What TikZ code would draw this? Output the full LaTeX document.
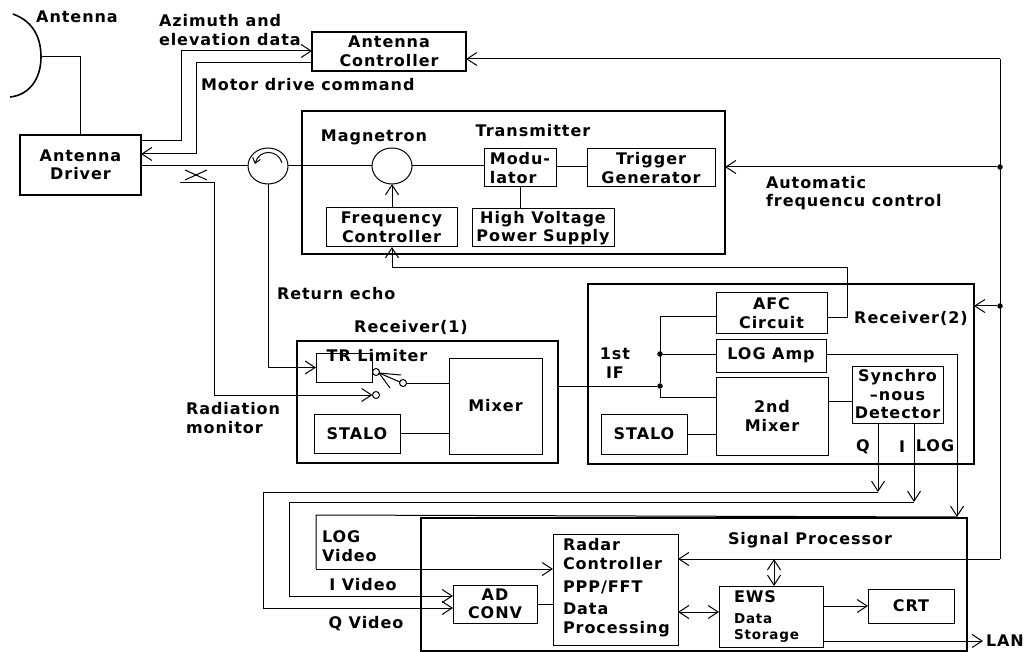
\documentclass[tikz,border=0pt]{standalone}
\usepackage{fontspec}
\setmainfont{DejaVu Sans}[LetterSpace=6]
\usetikzlibrary{arrows.meta, shapes.geometric}
\begin{document}
\begin{tikzpicture}[x=1pt, y=-1pt,
    wire/.style={line width=1pt, black},
    sig/.style={wire, -{Straight Barb[length=10pt,width=13pt]}},
    bothsig/.style={wire, {Straight Barb[length=10pt,width=13pt]}-{Straight Barb[length=10pt,width=13pt]}},
    unit/.style={draw, line width=2.2pt, inner sep=0pt, outer sep=0pt, align=center, font=\fontsize{16}{18.5}\selectfont\bfseries},
    block/.style={draw, line width=1pt, inner sep=0pt, outer sep=0pt, align=center, font=\fontsize{16}{18.5}\selectfont\bfseries},
    txt/.style={inner sep=0pt, outer sep=0pt, align=left, font=\fontsize{16}{18.5}\selectfont\bfseries},
    round/.style={draw, shape=ellipse, line width=1pt, inner sep=0pt, outer sep=0pt, minimum width=40pt, minimum height=36pt},
    contact/.style={draw, shape=circle, line width=1pt, inner sep=0pt, outer sep=0pt, minimum size=7pt},
    joint/.style={fill, shape=circle, inner sep=0pt, outer sep=0pt, minimum size=5.5pt}
]
    \useasboundingbox (0,0) rectangle (1028,652);

    \node[unit, minimum width=121pt, minimum height=60pt, name=driver] at(80.5,165) {Antenna\\Driver};
    \node[unit, minimum width=154pt, minimum height=39pt, name=ctrl] at(389,51.5) {Antenna\\Controller};

    \node[unit, minimum width=423pt, minimum height=143pt, name=transmitter] at(513.5,182.5) {};
    \node[block, minimum width=72pt, minimum height=38pt, name=mod, align=left] at(520,168) {Modu-\\lator};
    \node[block, minimum width=128pt, minimum height=38pt, name=trig] at(651,168) {Trigger\\Generator};
    \node[block, minimum width=131pt, minimum height=39pt, name=freq] at(391.5,227.5) {Frequency\\Controller};
    \node[block, minimum width=142pt, minimum height=38pt, name=hv] at(543,228) {High Voltage\\Power Supply};
    \node[round, name=circ] at(268,166) {};
    \node[round, name=magn] at(392,166) {};

    \node[unit, minimum width=261pt, minimum height=122pt, name=rxone] at(427.5,402) {};
    \node[block, minimum width=56pt, minimum height=29pt, name=limiter] at(344,367.5) {};
    \node[block, minimum width=93pt, minimum height=96pt, name=mixone] at(495.5,406) {Mixer};
    \node[block, minimum width=86pt, minimum height=39pt, name=staloone] at(357,433.5) {STALO};
    \node[contact, name=swa] at(376,372) {};
    \node[contact, name=swb] at(403,383) {};
    \node[contact, name=swc] at(376,395) {};

    \node[unit, minimum width=386pt, minimum height=180pt, name=rxtwo] at(781,374) {};
    \node[block, minimum width=111pt, minimum height=40pt, name=afc] at(771.5,313) {AFC\\Circuit};
    \node[block, minimum width=110pt, minimum height=33pt, name=logamp] at(771,355.5) {LOG Amp};
    \node[block, minimum width=112pt, minimum height=78pt, name=mixtwo] at(772,416) {2nd\\Mixer};
    \node[block, minimum width=91pt, minimum height=57pt, name=sync] at(897.5,394.5) {Synchro\\--nous\\Detector};
    \node[block, minimum width=86pt, minimum height=40pt, name=stalotwo] at(644,434) {STALO};

    \node[unit, minimum width=546pt, minimum height=133pt, name=sigproc] at(694,584.5) {};
    \node[block, minimum width=125pt, minimum height=111pt, name=radar] at(615.5,589.5) {};
    \node[block, minimum width=84pt, minimum height=38pt, name=adconv] at(495,604) {AD\\CONV};
    \node[block, minimum width=104pt, minimum height=61pt, name=ews] at(771,616.5) {};
    \node[block, minimum width=86pt, minimum height=34pt, name=crt] at(911,606) {CRT};

    \node[txt, name=antennatxt] at(77,17) {Antenna};
    \node[txt, anchor=west, name=aztxt] at(159,30) {Azimuth and\\elevation data};
    \node[txt, anchor=west, name=motortxt] at(201,85) {Motor drive command};
    \node[txt, name=magntxt] at(374,137) {Magnetron};
    \node[txt, name=transtxt] at(533,131) {Transmitter};
    \node[txt, anchor=west, name=afctxt] at(766,193) {Automatic\\frequencu control};
    \node[txt, anchor=west, name=echotxt] at(277,294) {Return echo};
    \node[txt, name=rxonetxt] at(411,327) {Receiver(1)};
    \node[txt, name=limitertxt] at(377,356) {TR Limiter};
    \node[txt, anchor=west, name=radtxt] at(186,418) {Radiation\\monitor};
    \node[txt, name=iftxt, align=center] at(615,363) {1st\\IF};
    \node[txt, name=rxtwotxt] at(911,318) {Receiver(2)};
    \node[txt, name=qtxt] at(863,447) {Q};
    \node[txt, name=itxt] at(902,447) {I};
    \node[txt, name=logtxt] at(935,446) {LOG};
    \node[txt, anchor=west, name=logvideo] at(322,546) {LOG\\Video};
    \node[txt, name=ivideo] at(363,585) {I Video};
    \node[txt, name=qvideo] at(366,624) {Q Video};
    \node[txt, name=sigproctxt] at(810,540) {Signal Processor};
    \node[txt, anchor=west, name=radartxt] at(563,554) {Radar\\Controller};
    \node[txt, anchor=west, name=ppptxt] at(563,587) {PPP/FFT};
    \node[txt, anchor=west, name=datatxt] at(563,620) {Data\\Processing};
    \node[txt, anchor=west, name=ewstxt] at(734,597) {EWS};
    \node[txt, anchor=west, name=storetxt, font=\fontsize{13.5}{16}\selectfont\bfseries] at(734,628) {Data\\Storage};
    \node[txt, anchor=west, name=lan] at(986,641) {LAN};

    \coordinate (antenna) at (41,57);
    \coordinate (qtip) at (878,492);
    \coordinate (itip) at (914,502);
    \coordinate (logtip) at (957,517);
    \coordinate (top) at (1000,59);
    \coordinate (bottom) at (1000,559);
    \node[joint, name=afcjoint] at(1000,167) {};
    \node[joint, name=rxjoint] at(1000,306) {};
    \node[joint, name=ifjoint] at(660,386) {};
    \node[joint, name=logjoint] at(660,354) {};

    \draw[wire, line width=1.6pt] (13,14) .. controls (35,22) and (41,40) .. (antenna) .. controls (41,78) and (30,95) .. (10,97);
    \draw[wire] (antenna) -| (driver.north);
    \draw[sig] (driver.east |- 0,141) -- (181,141) |- (ctrl.west |- 0,51);
    \draw[sig] (ctrl.west |- 0,63) -- (196,63) |- (driver.east |- 0,154);
    \draw[wire] (driver.east |- circ.west) -- (circ.west);
    \draw[wire] (circ.east) -- (magn.west);
    \draw[wire] (magn.east) -- (mod.west |- magn.east);
    \draw[wire] (mod.east |- afcjoint) -- (trig.west |- afcjoint);
    \draw[sig] (freq.north -| magn.south) -- (magn.south);
    \draw[wire] (mod.south) -- (mod.south |- hv.north);
    \draw[wire, -{Straight Barb[length=5pt,width=8pt]}] (282,163) .. controls (278,149) and (259,149) .. (255,164);

    \draw[wire] (185,170) -- (207,180);
    \draw[wire] (185,180) -- (207,170);
    \draw[wire] (180,183) -- (214,183) |- (swc.west -| 214,0);
    \draw[sig] (214,395) -- (swc.west);
    \draw[sig] (circ.south) |- (limiter.west);
    \draw[wire] (limiter.east |- swa.west) -- (swa.west);
    \draw[wire] (swb.east) -- (mixone.west |- swb.east);
    \draw[wire] (379,373) -- (401,375);
    \draw[wire] (379,373) -- (400,382);
    \draw[wire] (379,373) -- (390,388);
    \draw[wire] (staloone.east) -- (mixone.west |- staloone.east);

    \draw[wire] (rxone.east |- ifjoint) -- (ifjoint);
    \draw[wire] (afc.west |- 0,317) -| (ifjoint);
    \draw[wire] (ifjoint) |- (mixtwo.west |- 0,397);
    \draw[wire] (logjoint) -- (logamp.west |- logjoint);
    \draw[wire] (stalotwo.east) -- (mixtwo.west |- stalotwo.east);
    \draw[wire] (mixtwo.east |- 0,401) -- (sync.west |- 0,401);
    \draw[wire] (afc.east |- 0,318) -- (847,318) -- (847,268) -- (392,268);
    \draw[sig] (392,268) -- (freq.south -| 392,0);

    \draw[sig] (878,0 |- sync.south) -- (qtip);
    \draw[sig] (914,0 |- sync.south) -- (itip);
    \draw[wire] (logamp.east |- 0,354) -- (957,354);
    \draw[sig] (957,354) -- (logtip);
    \draw[wire] (qtip) -- (263,492) -- (263,608);
    \draw[sig] (263,608) -- (adconv.west |- 0,608);
    \draw[wire] (itip) -- (289,502) -- (289,596);
    \draw[sig] (289,596) -- (adconv.west |- 0,596);
    \draw[wire] (logtip) -- (316,515) -- (316,569);
    \draw[sig] (316,569) -- (radar.west |- 0,569);
    \draw[wire] (adconv.east) -- (radar.west |- adconv.east);

    \draw[sig] (top) -- (ctrl.east |- top);
    \draw[wire] (top) -- (bottom);
    \draw[sig] (bottom) -- (radar.east |- bottom);
    \draw[sig] (afcjoint) -- (transmitter.east |- afcjoint);
    \draw[sig] (rxjoint) -- (rxtwo.east |- rxjoint);

    \draw[bothsig] (774,559) -- (ews.north -| 774,0);
    \draw[bothsig] (radar.east |- 0,612) -- (ews.west |- 0,612);
    \draw[sig] (ews.east |- crt.west) -- (crt.west);
    \draw[sig, shorten >=3pt] (ews.east |- lan.west) -- (lan.west);
\end{tikzpicture}
\end{document}
